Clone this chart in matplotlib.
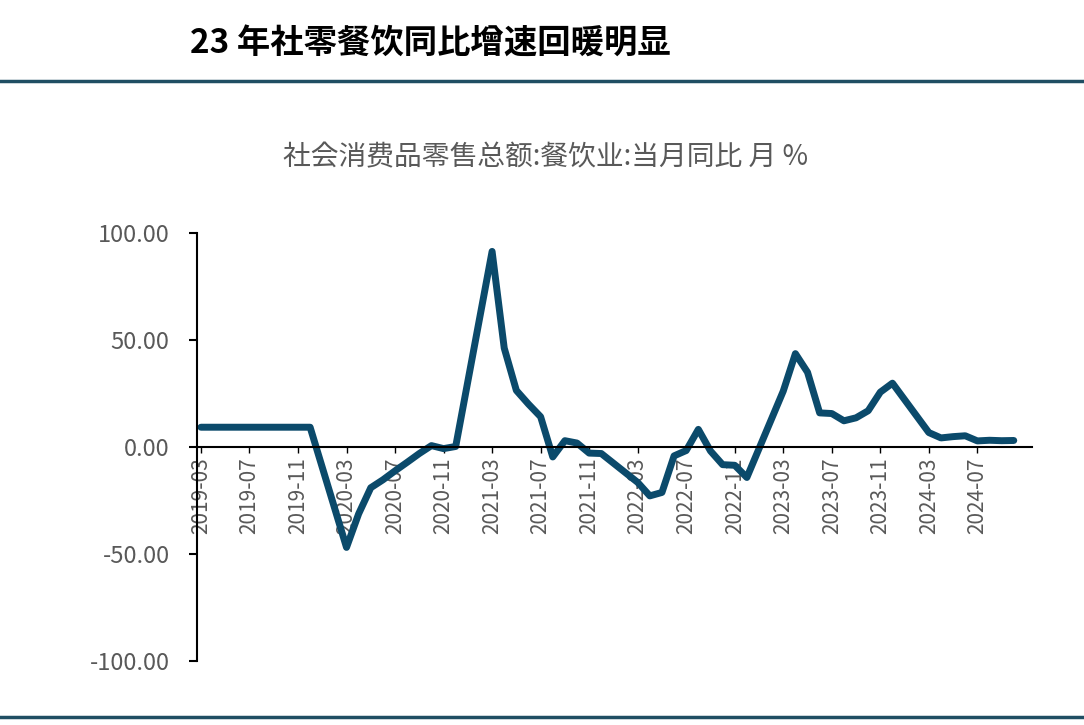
import matplotlib
matplotlib.use("Agg")
import matplotlib.pyplot as plt
from matplotlib.lines import Line2D
from matplotlib import font_manager

names = {f.name for f in font_manager.fontManager.ttflist}
cjk = [n for n in ['Noto Sans CJK SC', 'Noto Sans CJK JP', 'Noto Sans CJK TC', 'Noto Sans CJK KR'] if n in names]
plt.rcParams['font.family'] = cjk + ['DejaVu Sans']

months = [f"{2019 + (m + 2) // 12}-{(m + 2) % 12 + 1:02d}" for m in range(68)]
values = [
    9.4, 9.4, 9.4, 9.4, 9.4, 9.4, 9.4, 9.4, 9.4, 9.4,          # 2019-03..2019-12
    None, None, -46.8, -31.1, -18.9, -15.2, -11.0, -7.0, -2.9, 0.8, -0.6, 0.4,   # 2020
    None, None, 91.6, 46.4, 26.6, 20.2, 14.3, -4.5, 3.1, 2.0, -2.7, -2.9,        # 2021
    None, None, -16.4, -22.7, -21.1, -4.0, -1.5, 8.4, -1.7, -8.1, -8.4, -14.1,   # 2022
    None, None, 26.3, 43.8, 35.1, 16.1, 15.8, 12.4, 13.8, 17.1, 25.8, 30.0,      # 2023
    None, None, 6.9, 4.4, 5.0, 5.4, 3.0, 3.3, 3.1, 3.2,                          # 2024
]
yticks = [-100, -50, 0, 50, 100]

xs = [i for i, v in enumerate(values) if v is not None]
ys = [v for v in values if v is not None]

fig = plt.figure(figsize=(10.84, 7.25), dpi=100)
ax = fig.add_axes([0.182, 0.088, 0.77, 0.59])
ax.spines['bottom'].set_position(('data', 0))
ax.spines['top'].set_visible(False)
ax.spines['right'].set_visible(False)
for s in ['left', 'bottom']:
    ax.spines[s].set_color('black')
    ax.spines[s].set_linewidth(1.5)
ax.plot(xs, ys, color='#0b4a6b', lw=5, solid_capstyle='round', solid_joinstyle='round')
ax.set_xlim(-0.3, 68.5)
ax.set_ylim(-100, 100)
ax.set_yticks(yticks)
ax.set_yticklabels([f"{v:.2f}" for v in yticks], fontsize=17, color='#595959')
ax.set_xticks(range(0, 68, 4))
ax.set_xticklabels(months[::4], rotation=90, fontsize=15, color='#595959')
ax.tick_params(axis='y', direction='out', length=6, width=1.5, pad=14)
ax.tick_params(axis='x', direction='out', length=4, width=1, pad=3)

fig.text(0.175, 0.94, "23 年社零餐饮同比增速回暖明显", fontsize=24, style='italic',
         fontweight='bold', color='black', va='center')
fig.text(0.503, 0.783, "社会消费品零售总额:餐饮业:当月同比 月 %", fontsize=20,
         color='#595959', ha='center', va='center')
fig.add_artist(Line2D([0, 1], [0.888, 0.888], color='#1f4e63', lw=2.5, transform=fig.transFigure))
fig.add_artist(Line2D([0, 1], [0.011, 0.011], color='#1f4e63', lw=2.5, transform=fig.transFigure))
fig.savefig("out.png", dpi=100)
